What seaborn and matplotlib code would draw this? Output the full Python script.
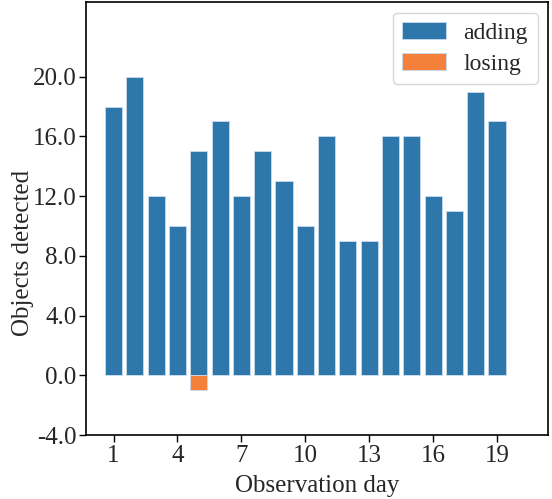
import pandas as pd
import matplotlib.pyplot as plt
import numpy as np
import seaborn as sns

days = list(range(1, 20))
adding = [18, 20, 12, 10, 15, 17, 12, 15, 13, 10, 16, 9, 9, 16, 16, 12, 11, 19, 17]
losing = [0, 0, 0, 0, -1, 0, 0, 0, 0, 0, 0, 0, 0, 0, 0, 0, 0, 0, 0]

df = pd.DataFrame({'day': days, 'adding': adding, 'losing': losing})
df_long = df.melt(id_vars='day', var_name='kind', value_name='count')

sns.set_style('ticks')
plt.rcParams['font.family'] = ['Liberation Serif', 'DejaVu Serif']

fig, ax = plt.subplots(figsize=(5.52, 4.99), dpi=100)
fig.subplots_adjust(left=0.156, right=0.993, bottom=0.128, top=0.996)

sns.barplot(data=df_long, x='day', y='count', hue='kind', dodge=False,
            palette=['#2e77ab', '#f5803a'], saturation=1, width=0.8,
            edgecolor='#c8dcef', linewidth=0.6, ax=ax)

ax.set_ylim(-4, 25)
ax.set_yticks(np.arange(-4, 21, 4))
ax.set_yticklabels([f'{v:.1f}' for v in np.arange(-4, 21, 4)])
ax.set_xlim(-1.29, 20.4)
ax.set_xticks(range(0, 19, 3))
ax.set_xticklabels([str(d) for d in days[::3]])
ax.tick_params(labelsize=18, length=5, width=1, color='black', pad=2)
ax.set_xlabel('Observation day', fontsize=18, labelpad=6)
ax.set_ylabel('Objects detected', fontsize=18)
ax.yaxis.set_label_coords(-0.113, 0.42)
for s in ax.spines.values():
    s.set_color('black')
    s.set_linewidth(1.2)

ax.legend(loc='upper right', fontsize=17, frameon=True, handlelength=1.85,
          handletextpad=0.75, borderaxespad=0.45, labelspacing=0.4)

plt.savefig('out.png', dpi=100)
